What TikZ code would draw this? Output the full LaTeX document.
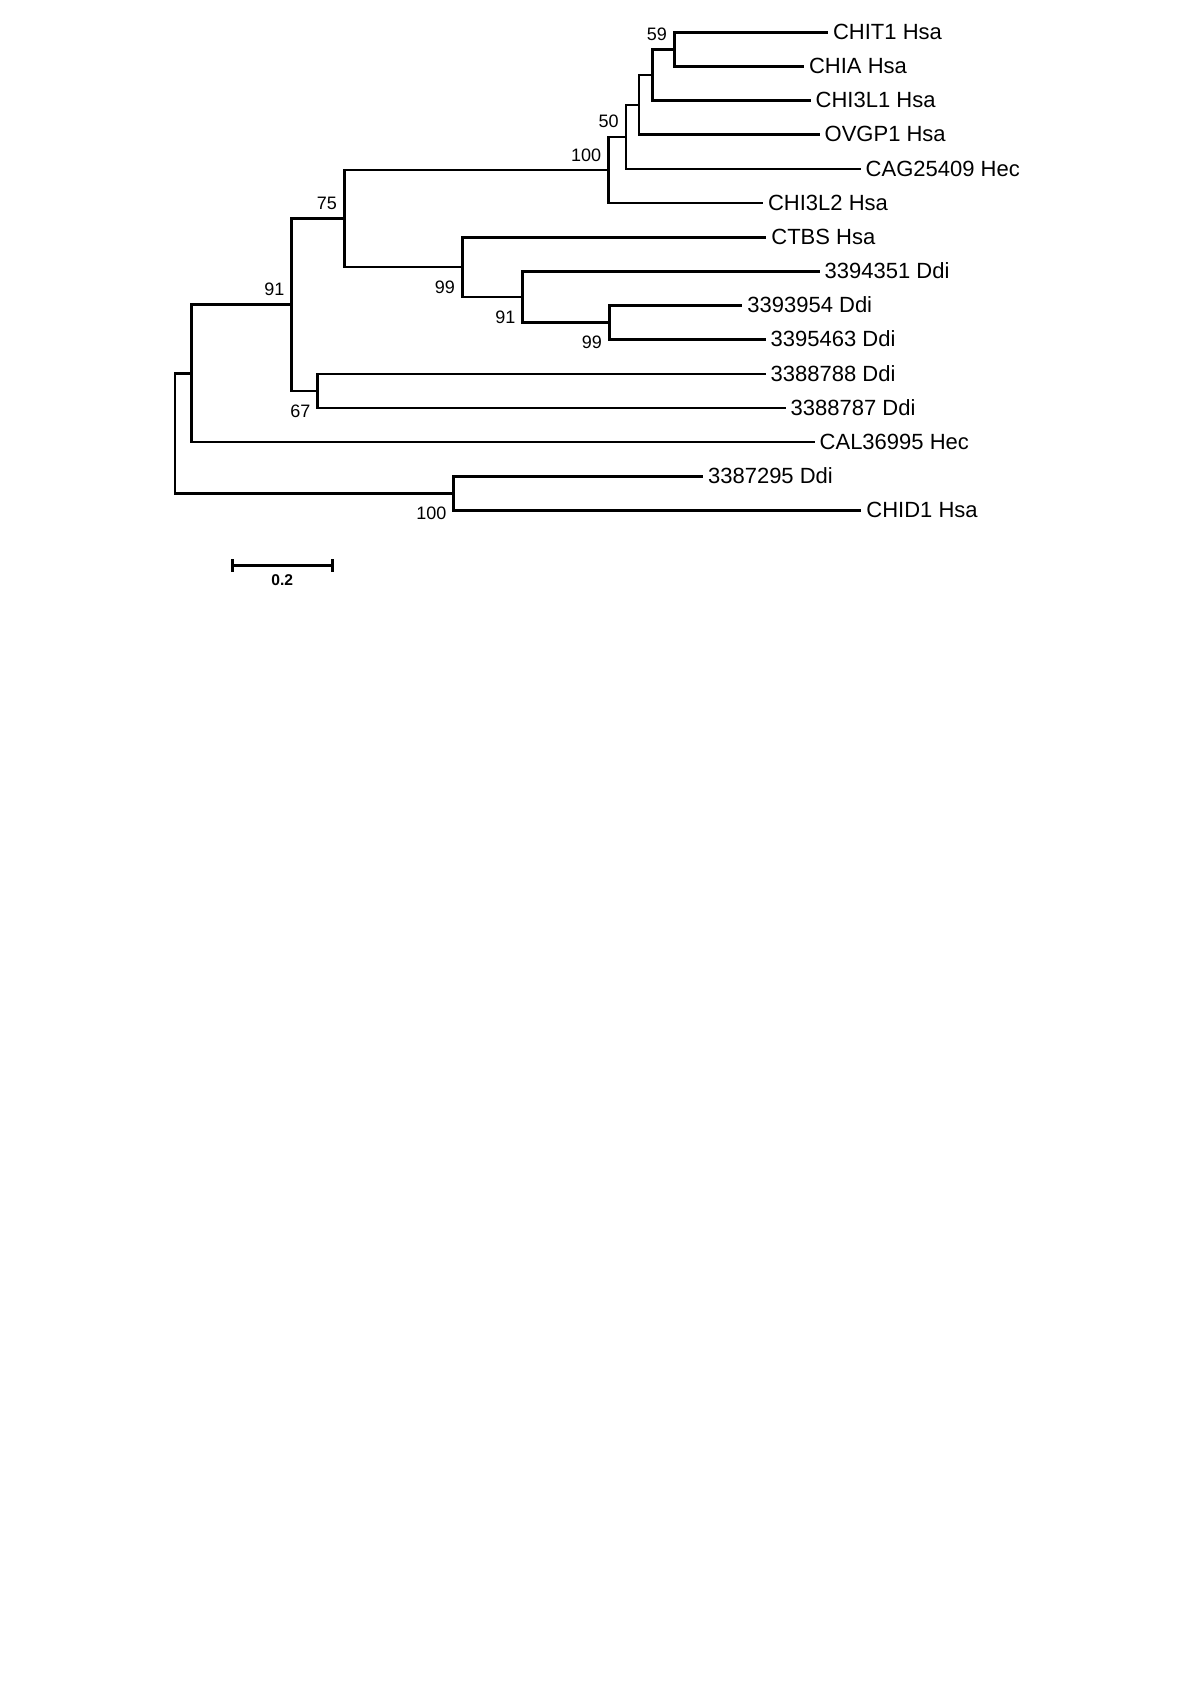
\documentclass[tikz,border=0pt]{standalone}
\usepackage{fontspec}
\setmainfont{Liberation Sans}
\usepackage{tikz}
\usetikzlibrary{calc}
\tikzset{
  leaf/.style={anchor=west, inner sep=3pt, font=\fontsize{11}{13}\selectfont, text height=0.72em, text depth=0pt},
  boot/.style={inner sep=0pt, font=\fontsize{9}{11}\selectfont, text height=0.72em, text depth=0pt},
  bootup/.style={boot, anchor=south east, xshift=-3.5pt, yshift=4.3pt},
  bootdown/.style={boot, anchor=north east, xshift=-3.5pt, yshift=-5.7pt},
  branch/.style={draw, line width=1.3pt, line cap=rect}
}
\begin{document}
\begin{tikzpicture}[x=0.5pt, y=-0.5pt]
\useasboundingbox (0,0) rectangle (1200,1698);
% leaves
\node[leaf] (chit1) at (826.7,32.3) {CHIT1 Hsa};
\node[leaf] (chia) at (802.7,66.45) {CHIA Hsa};
\node[leaf] (chi3l1) at (809.3,100.6) {CHI3L1 Hsa};
\node[leaf] (ovgp1) at (818.3,134.75) {OVGP1 Hsa};
\node[leaf] (cag) at (859.3,168.9) {CAG25409 Hec};
\node[leaf] (chi3l2) at (761.7,203.05) {CHI3L2 Hsa};
\node[leaf] (ctbs) at (765,237.2) {CTBS Hsa};
\node[leaf] (d351) at (818.3,271.35) {3394351 Ddi};
\node[leaf] (d954) at (741,305.5) {3393954 Ddi};
\node[leaf] (d463) at (764.3,339.65) {3395463 Ddi};
\node[leaf] (d788) at (764.3,373.8) {3388788 Ddi};
\node[leaf] (d787) at (784.3,407.95) {3388787 Ddi};
\node[leaf] (cal) at (813.3,442.1) {CAL36995 Hec};
\node[leaf] (d295) at (701.7,476.25) {3387295 Ddi};
\node[leaf] (chid1) at (860,510.4) {CHID1 Hsa};
% inner nodes
\coordinate (n59) at (674.3,49.4);
\coordinate (nl1) at (652.7,75.0);
\coordinate (novg) at (639,104.9);
\coordinate (n50) at (626,136.9);
\coordinate (n100a) at (608.5,170.0);
\coordinate (n99b) at (609.3,322.6);
\coordinate (n91b) at (522.7,297.0);
\coordinate (n99a) at (462.3,267.1);
\coordinate (n75) at (344.3,218.55);
\coordinate (n67) at (317.7,390.9);
\coordinate (n91a) at (291.7,304.7);
\coordinate (ncal) at (191.7,373.4);
\coordinate (n100b) at (453.7,493.3);
\coordinate (root) at (175,433.35);
% branches
\path[branch] (chit1.west) -| (n59) |- (chia.west);
\path[branch] (n59) -| (nl1) |- (chi3l1.west);
\path[branch] (nl1) -| (novg) |- (ovgp1.west);
\path[branch] (novg) -| (n50) |- (cag.west);
\path[branch] (n50) -| (n100a) |- (chi3l2.west);
\path[branch] (d954.west) -| (n99b) |- (d463.west);
\path[branch] (d351.west) -| (n91b) |- (n99b);
\path[branch] (ctbs.west) -| (n99a) |- (n91b);
\path[branch] (n100a) -| (n75) |- (n99a);
\path[branch] (d788.west) -| (n67) |- (d787.west);
\path[branch] (n75) -| (n91a) |- (n67);
\path[branch] (n91a) -| (ncal) |- (cal.west);
\path[branch] (d295.west) -| (n100b) |- (chid1.west);
\path[branch] (ncal) -| (root) |- (n100b);
% bootstrap values
\node[bootup] (b59) at (n59) {59};
\node[bootup] (b50) at (n50) {50};
\node[bootup] (b100a) at (n100a) {100};
\node[bootup] (b75) at (n75) {75};
\node[bootup] (b91a) at (n91a) {91};
\node[bootdown] (b99a) at (n99a) {99};
\node[bootdown] (b91b) at (n91b) {91};
\node[bootdown] (b99b) at (n99b) {99};
\node[bootdown] (b67) at (n67) {67};
\node[bootdown] (b100b) at (n100b) {100};
% scale bar
\coordinate (sbl) at (232.3,565.5);
\coordinate (sbr) at (332.3,565.5);
\path[branch] (sbl) -- (sbr);
\path[branch] ([yshift=2.5pt]sbl) -- ([yshift=-2.5pt]sbl);
\path[branch] ([yshift=2.5pt]sbr) -- ([yshift=-2.5pt]sbr);
\node[inner sep=0pt, anchor=north, yshift=-4pt, font=\fontsize{7.8}{9}\selectfont\bfseries, text height=5.6pt, text depth=0pt] (sblabel) at ($(sbl)!0.5!(sbr)$) {0.2};
\end{tikzpicture}
\end{document}
